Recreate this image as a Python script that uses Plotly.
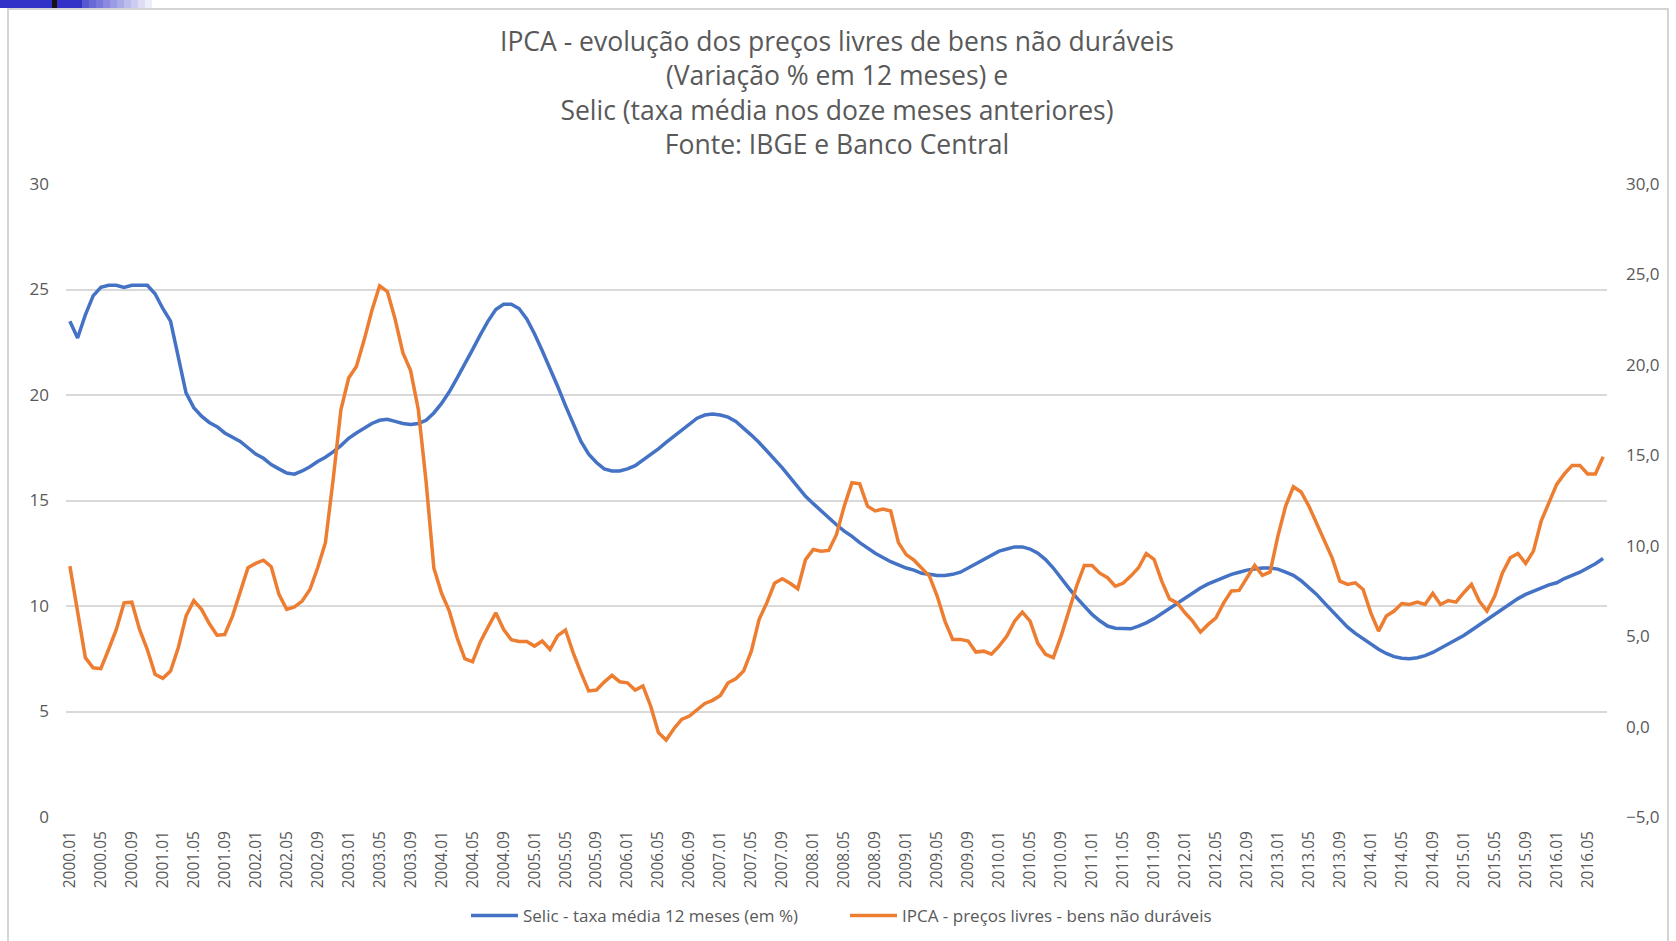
import plotly.graph_objects as go

# ---------------- data ----------------
years = list(range(2000, 2017))
months_label = [f"{y}.{m:02d}" for y in years for m in range(1, 13)]
periods = months_label[:199]  # 2000.01 .. 2016.07

selic = [
    23.5, 22.7, 23.8, 24.7, 25.1, 25.2, 25.2, 25.1, 25.2, 25.2, 25.2, 24.8,
    24.1, 23.5, 21.8, 20.1, 19.4, 19.0, 18.7, 18.5, 18.2, 18.0, 17.8, 17.5,
    17.2, 17.0, 16.7, 16.5, 16.3, 16.25, 16.4, 16.6, 16.85, 17.05, 17.3, 17.6,
    17.95, 18.2, 18.45, 18.65, 18.8, 18.85, 18.75, 18.65, 18.6, 18.65, 18.8, 19.15,
    19.6, 20.15, 20.8, 21.45, 22.15, 22.85, 23.5, 24.05, 24.3, 24.3, 24.1, 23.6,
    22.9, 22.1, 21.3, 20.4, 19.5, 18.6, 17.8, 17.2, 16.8, 16.5, 16.4, 16.4,
    16.5, 16.65, 16.9, 17.15, 17.45, 17.75, 18.05, 18.35, 18.65, 18.9, 19.05, 19.1,
    19.05, 18.95, 18.75, 18.45, 18.1, 17.75, 17.35, 17.0, 16.55, 16.1, 15.65, 15.2,
    14.85, 14.5, 14.2, 13.85, 13.55, 13.3, 13.0, 12.75, 12.5, 12.3, 12.1, 11.95,
    11.8, 11.7, 11.55, 11.5, 11.45, 11.45, 11.5, 11.6, 11.8, 12.0, 12.2, 12.4,
    12.6, 12.7, 12.8, 12.8, 12.7, 12.5, 12.2, 11.8, 11.3, 10.85, 10.4, 10.0,
    9.6, 9.3, 9.05, 8.95, 8.93, 8.92, 9.05, 9.2, 9.4, 9.65, 9.9, 10.15,
    10.35, 10.6, 10.85, 11.05, 11.2, 11.35, 11.5, 11.6, 11.7, 11.75, 11.8, 11.8,
    11.75, 11.6, 11.45, 11.2, 10.9, 10.55, 10.15, 9.75, 9.35, 9.0, 8.7, 8.45,
    8.2, 7.95, 7.75, 7.6, 7.52, 7.5, 7.55, 7.65, 7.8, 8.0, 8.2, 8.4,
    8.6, 8.85, 9.1, 9.35, 9.6, 9.85, 10.1, 10.35, 10.55, 10.7, 10.85, 11.0,
    11.1, 11.3, 11.45, 11.6, 11.8, 12.0, 12.25,
]

ipca = [
    8.87, 6.39, 3.81, 3.25, 3.20, 4.26, 5.37, 6.84, 6.88, 5.37, 4.26, 2.89,
    2.67, 3.07, 4.36, 6.11, 6.96, 6.48, 5.70, 5.05, 5.09, 6.11, 7.40, 8.78,
    9.02, 9.20, 8.84, 7.31, 6.48, 6.62, 6.94, 7.58, 8.78, 10.17, 13.67, 17.52,
    19.27, 19.91, 21.37, 23.0, 24.37, 24.05, 22.53, 20.67, 19.68, 17.52, 13.55, 8.77,
    7.37, 6.38, 4.92, 3.75, 3.58, 4.68, 5.50, 6.29, 5.38, 4.80, 4.70, 4.70,
    4.45, 4.73, 4.26, 5.03, 5.34, 4.08, 2.98, 1.97, 2.02, 2.46, 2.83, 2.48,
    2.42, 2.02, 2.25, 1.14, -0.33, -0.74, -0.12, 0.40, 0.58, 0.95, 1.28, 1.45,
    1.72, 2.42, 2.64, 3.07, 4.17, 5.92, 6.84, 7.92, 8.17, 7.92, 7.62, 9.23,
    9.79, 9.70, 9.74, 10.62, 12.19, 13.48, 13.42, 12.19, 11.92, 12.03, 11.92, 10.17,
    9.51, 9.20, 8.78, 8.32, 7.22, 5.83, 4.82, 4.82, 4.73, 4.12, 4.17, 4.00,
    4.45, 5.00, 5.83, 6.33, 5.83, 4.60, 4.00, 3.81, 5.00, 6.39, 7.76, 8.91,
    8.91, 8.48, 8.23, 7.76, 7.92, 8.32, 8.78, 9.57, 9.25, 8.04, 7.06, 6.84,
    6.29, 5.83, 5.22, 5.65, 6.01, 6.84, 7.50, 7.53, 8.23, 8.91, 8.36, 8.55,
    10.53, 12.19, 13.26, 12.97, 12.19, 11.26, 10.25, 9.33, 8.04, 7.86, 7.95, 7.58,
    6.29, 5.28, 6.11, 6.39, 6.80, 6.75, 6.88, 6.75, 7.37, 6.75, 6.97, 6.88,
    7.40, 7.86, 6.94, 6.39, 7.22, 8.50, 9.33, 9.57, 9.02, 9.70, 11.36, 12.37,
    13.39, 13.97, 14.44, 14.44, 13.97, 13.97, 14.92,
]

tick_labels = periods[::4]

left_ticks = [0, 5, 10, 15, 20, 25, 30]
right_ticks = [-5, 0, 5, 10, 15, 20, 25, 30]

title_lines = [
    "IPCA - evolução dos preços livres de bens não duráveis",
    "(Variação % em 12 meses) e",
    "Selic (taxa média nos doze meses anteriores)",
    "Fonte: IBGE e Banco Central",
]
name_selic = "Selic - taxa média 12 meses (em %)"
name_ipca = "IPCA - preços livres - bens não duráveis"

# ---------------- layout geometry (px) ----------------
W, H = 1676, 941
ML, MR, MT, MB = 66, 69, 184, 124
PW, PH = W - ML - MR, H - MT - MB


def px(x):
    return (x - ML) / PW


def py(y):
    return (H - MB - y) / PH


GRAY_TXT = "#595959"
FONT = "Open Sans"

fig = go.Figure()
fig.add_trace(go.Scatter(
    x=periods, y=selic, name=name_selic, mode="lines",
    line=dict(color="#4472C4", width=3.5), yaxis="y",
))
fig.add_trace(go.Scatter(
    x=periods, y=ipca, name=name_ipca, mode="lines",
    line=dict(color="#ED7D31", width=3.5), yaxis="y2",
))

shapes = []
# outer frame
shapes.append(dict(type="rect", xref="paper", yref="paper",
                   x0=px(8), x1=px(1668), y0=py(990), y1=py(9),
                   line=dict(color="#D4D4D4", width=2), fillcolor="rgba(0,0,0,0)",
                   layer="below"))
# top decoration bar
shapes.append(dict(type="rect", xref="paper", yref="paper",
                   x0=px(0), x1=px(82), y0=py(8), y1=py(0),
                   line=dict(width=0), fillcolor="#3232C8"))
steps = 10
for i in range(steps):
    x0 = 82 + i * 7
    op = 0.9 * (1 - (i + 1) / (steps + 1))
    shapes.append(dict(type="rect", xref="paper", yref="paper",
                       x0=px(x0), x1=px(x0 + 7), y0=py(8), y1=py(0),
                       line=dict(width=0), fillcolor=f"rgba(50,50,200,{op:.3f})"))
shapes.append(dict(type="rect", xref="paper", yref="paper",
                   x0=px(52), x1=px(57), y0=py(8), y1=py(0),
                   line=dict(width=0), fillcolor="#141414"))

fig.update_layout(
    width=W, height=H,
    margin=dict(l=ML, r=MR, t=MT, b=MB, pad=0, autoexpand=False),
    paper_bgcolor="white", plot_bgcolor="white",
    separators=", ",
    font=dict(family=FONT, color=GRAY_TXT, size=15),
    title=dict(
        text="<br>".join(title_lines),
        x=px(837), xanchor="center", xref="paper",
        y=1 - 51 / H, yanchor="top", yref="container",
        font=dict(family=FONT, size=26.5, color=GRAY_TXT),
    ),
    showlegend=True,
    legend=dict(
        orientation="h", x=px(845), xanchor="center",
        y=py(916), yanchor="middle",
        font=dict(family=FONT, size=17, color=GRAY_TXT),
        bgcolor="rgba(0,0,0,0)",
        itemwidth=47, entrywidth=317, entrywidthmode="pixels",
    ),
    xaxis=dict(
        type="category", range=[-0.5, len(periods) - 0.5],
        tickmode="array", tickvals=tick_labels, ticktext=tick_labels,
        tickangle=-90, showgrid=False, zeroline=False, showline=False,
        ticks="", ticklabelstandoff=10, automargin=False,
        tickfont=dict(family=FONT, size=15.5, color=GRAY_TXT),
    ),
    yaxis=dict(
        range=[0, 30], tickmode="array", tickvals=left_ticks,
        showgrid=True, gridcolor="#D9D9D9", gridwidth=1.5,
        zeroline=False, showline=False, ticks="", ticklabelstandoff=16,
        automargin=False,
        tickfont=dict(family=FONT, size=17, color=GRAY_TXT),
    ),
    yaxis2=dict(
        range=[-5, 30], tickmode="array", tickvals=right_ticks,
        tickformat=".1f", overlaying="y", side="right",
        showgrid=False, zeroline=False, showline=False, ticks="",
        ticklabelstandoff=18, automargin=False,
        tickfont=dict(family=FONT, size=17, color=GRAY_TXT),
    ),
    shapes=shapes,
)

fig.write_html(
    "out.html",
    config={"displayModeBar": False},
    post_script="document.body.style.margin='0px';",
)
